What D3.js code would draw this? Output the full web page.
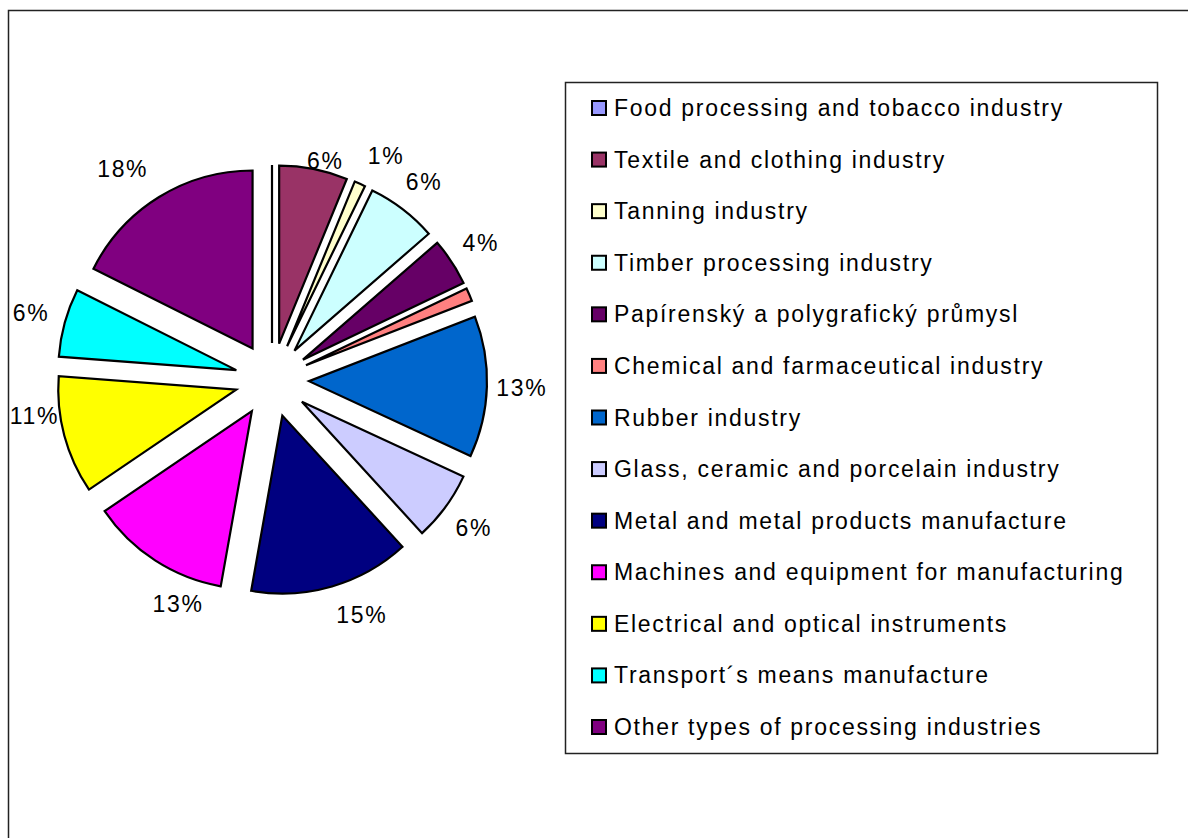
<!DOCTYPE html>
<html>
<head>
<meta charset="utf-8">
<script src="https://cdn.jsdelivr.net/npm/d3@7"></script>
<style>
  body { margin: 0; background: #fff; }
  text { font-family: "Liberation Sans", Arial, sans-serif; font-size: 23px; letter-spacing: 1.7px; fill: #000; }
</style>
</head>
<body>
<svg id="chart"></svg>
<script>
const categories = [
  'Food processing and tobacco industry',
  'Textile and clothing industry',
  'Tanning industry',
  'Timber processing industry',
  'Papírenský a polygrafický průmysl',
  'Chemical and farmaceutical industry',
  'Rubber industry',
  'Glass, ceramic and porcelain industry',
  'Metal and metal products manufacture',
  'Machines and equipment for manufacturing',
  'Electrical and optical instruments',
  'Transport´s means manufacture',
  'Other types of processing industries'
];
// share of each branch, percent
const shares = [0, 6.2, 1.0, 6.4, 4.3, 1.2, 12.8, 6.3, 14.6, 12.7, 10.7, 6.2, 17.6];
const labels = ['', '6%', '1%', '6%', '4%', '', '13%', '6%', '15%', '13%', '11%', '6%', '18%'];
const colors = ['#9999FF', '#993366', '#FFFFCC', '#CCFFFF', '#660066', '#FF8080', '#0066CC',
                '#CCCCFF', '#000080', '#FF00FF', '#FFFF00', '#00FFFF', '#800080'];

const W = 1188, H = 838;
const cx = 272, cy = 380;
const radius = 178;
const explode = 37;
const labelR = 250;
// hand-placed labels in the original
const nudge = {1: [5, 26], 2: [12, 4], 8: [20, -5], 9: [42, 14], 10: [4, -28], 12: [-18, 2]};

const svg = d3.select('#chart').attr('width', W).attr('height', H);

// outer chart frame (right/bottom edges fall outside the picture)
svg.append('path')
  .attr('d', `M8.5,${H} L8.5,10.5 L${W},10.5`)
  .attr('fill', 'none')
  .attr('stroke', '#222')
  .attr('stroke-width', 1.5);

const pie = d3.pie().sort(null).value(d => d);
const arc = d3.arc().innerRadius(0).outerRadius(radius);
const arcs = pie(shares);

const g = svg.append('g').attr('transform', `translate(${cx},${cy})`);

g.selectAll('path.slice')
  .data(arcs)
  .join('path')
    .attr('class', 'slice')
    .attr('d', arc)
    .attr('transform', d => {
      const a = (d.startAngle + d.endAngle) / 2;
      return `translate(${explode * Math.sin(a)},${-explode * Math.cos(a)})`;
    })
    .attr('fill', (d, i) => colors[i])
    .attr('stroke', '#000')
    .attr('stroke-width', 2.2)
    .attr('stroke-linejoin', 'miter');

g.selectAll('text.pct')
  .data(arcs)
  .join('text')
    .attr('class', 'pct')
    .attr('text-anchor', 'middle')
    .attr('dominant-baseline', 'central')
    .attr('x', (d, i) => {
      const a = (d.startAngle + d.endAngle) / 2;
      return labelR * Math.sin(a) + (nudge[i] ? nudge[i][0] : 0);
    })
    .attr('y', (d, i) => {
      const a = (d.startAngle + d.endAngle) / 2;
      return -labelR * Math.cos(a) + (nudge[i] ? nudge[i][1] : 0);
    })
    .text((d, i) => labels[i]);

// legend
const legend = svg.append('g');
legend.append('rect')
  .attr('x', 565.5).attr('y', 82.5)
  .attr('width', 592).attr('height', 671)
  .attr('fill', '#fff')
  .attr('stroke', '#222')
  .attr('stroke-width', 1.5);

const rowY = d3.scalePoint().domain(categories).range([108, 727]);

const rows = legend.selectAll('g.row')
  .data(categories)
  .join('g')
    .attr('class', 'row')
    .attr('transform', d => `translate(0,${rowY(d)})`);

rows.append('rect')
  .attr('x', 592).attr('y', -7)
  .attr('width', 14).attr('height', 14)
  .attr('fill', (d, i) => colors[i])
  .attr('stroke', '#000')
  .attr('stroke-width', 2);

rows.append('text')
  .attr('x', 614)
  .attr('dominant-baseline', 'central')
  .text(d => d);
</script>
</body>
</html>
